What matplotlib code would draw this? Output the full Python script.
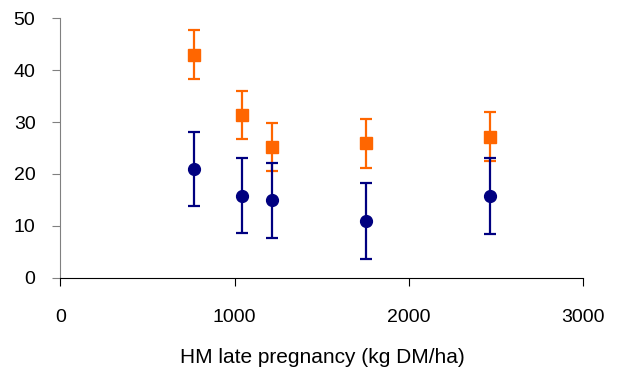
import matplotlib.pyplot as plt

# Daten
hm_late = [767, 1043, 1211, 1752, 2467]
orange_vals = [43.0, 31.3, 25.2, 25.9, 27.2]
orange_err = [4.7, 4.6, 4.7, 4.7, 4.7]
navy_vals = [20.9, 15.8, 14.9, 10.9, 15.8]
navy_err = [7.1, 7.2, 7.3, 7.3, 7.3]

plt.rcParams['font.family'] = ['Liberation Sans', 'DejaVu Sans']

fig = plt.figure(figsize=(6.19, 3.71), dpi=100)
ax = fig.add_axes([0.0977, 0.2515, 0.8446, 0.6992])

ax.errorbar(hm_late, orange_vals, yerr=orange_err, fmt='s', color='#FF6600',
            markersize=9, elinewidth=1.6, capsize=4, capthick=1.6)
ax.errorbar(hm_late, navy_vals, yerr=navy_err, fmt='o', color='#000080',
            markersize=8.5, elinewidth=1.6, capsize=4, capthick=1.6)

ax.set_xlim(0, 3000)
ax.set_ylim(0, 50)
ax.set_xticks([0, 1000, 2000, 3000])
ax.set_yticks([0, 10, 20, 30, 40, 50])

ax.spines['top'].set_visible(False)
ax.spines['right'].set_visible(False)
ax.spines['left'].set_color('#808080')
ax.spines['bottom'].set_color('black')
ax.tick_params(axis='y', direction='out', length=6, color='#808080', labelsize=14, pad=12)
ax.tick_params(axis='x', direction='out', length=6, color='black', labelsize=14, pad=16.5)

ax.set_xlabel('HM late pregnancy (kg DM/ha)', fontsize=15, labelpad=16)

fig.savefig('out.png', dpi=100)
